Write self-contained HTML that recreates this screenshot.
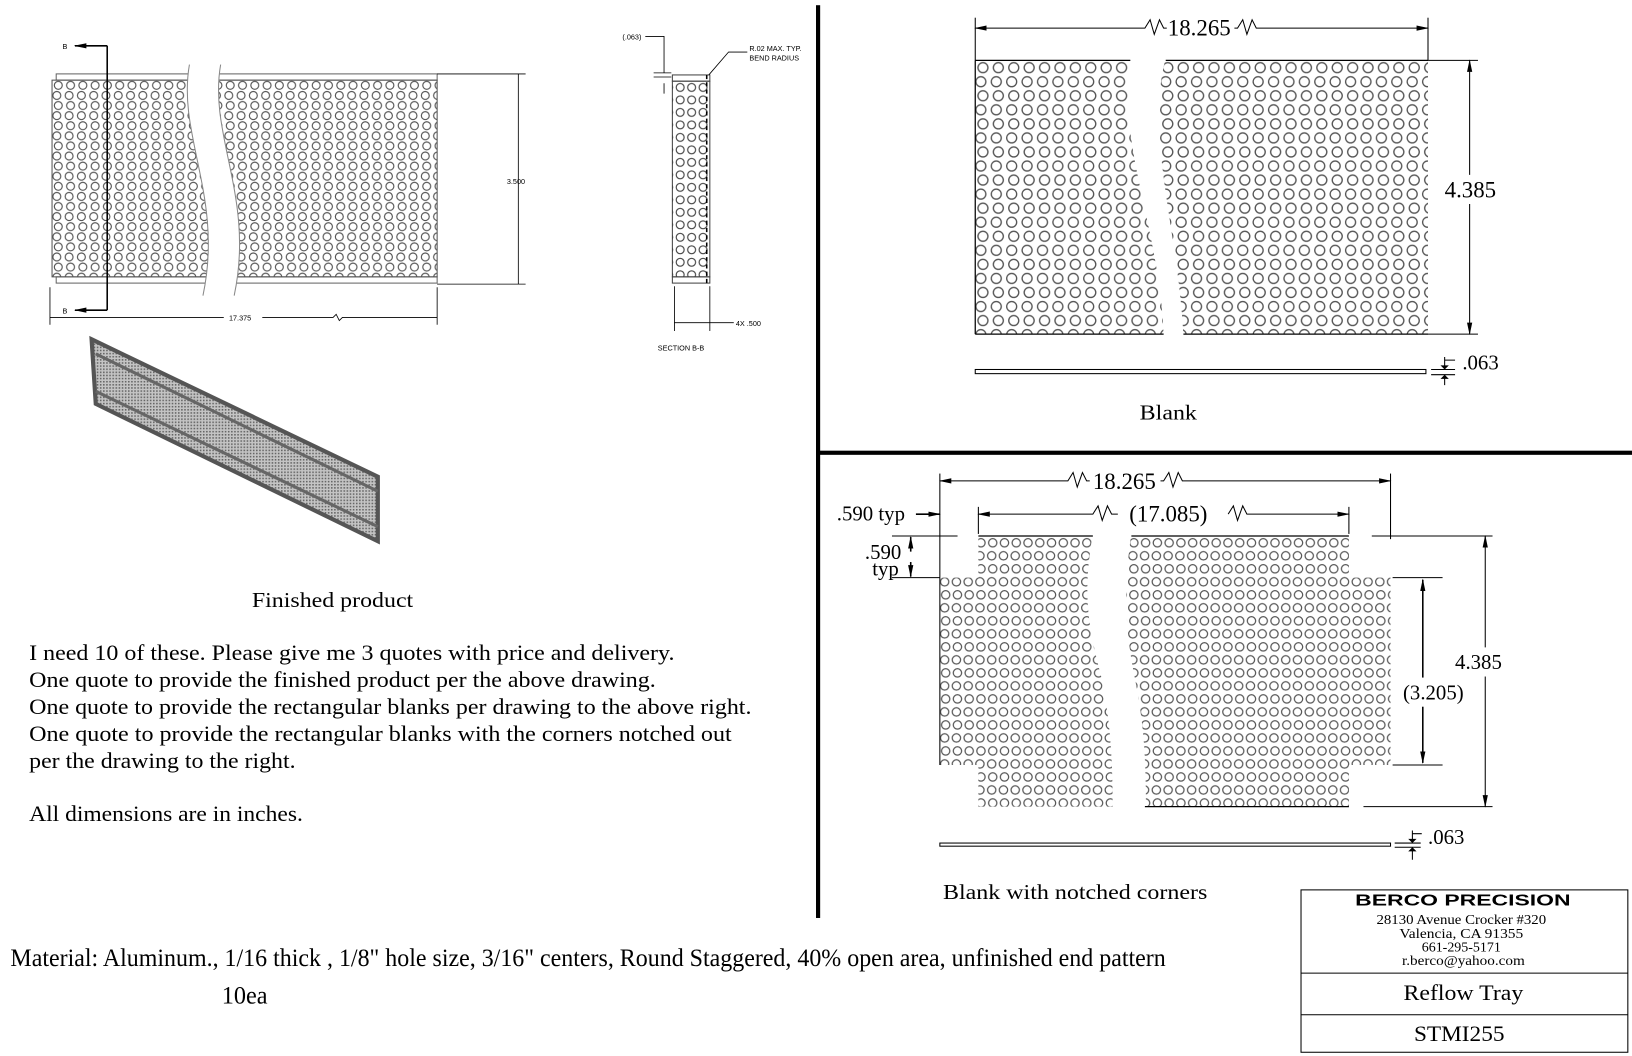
<!DOCTYPE html>
<html><head><meta charset="utf-8"><style>
html,body{margin:0;padding:0;background:#fff}
svg{display:block}
text{font-family:"Liberation Serif",serif;fill:#000}
.s{font-family:"Liberation Sans",sans-serif}
</style></head><body>
<svg width="1632" height="1056" viewBox="0 0 1568 1014.6" preserveAspectRatio="none" xmlns="http://www.w3.org/2000/svg">
<defs>
<pattern id="pA" width="14.8" height="27" patternUnits="userSpaceOnUse" x="937" y="58">
<circle cx="7.4" cy="7" r="4.8" fill="none" stroke="#555" stroke-width="1.3"/>
<circle cx="5.4" cy="20.5" r="4.8" fill="none" stroke="#555" stroke-width="1.3"/>
</pattern>
<pattern id="pB" width="11.3" height="25" patternUnits="userSpaceOnUse" x="903" y="515">
<circle cx="5.6" cy="6.5" r="4" fill="none" stroke="#555" stroke-width="1.2"/>
<circle cx="4.6" cy="19" r="4" fill="none" stroke="#555" stroke-width="1.2"/>
</pattern>
<pattern id="pC" width="11.8" height="19.4" patternUnits="userSpaceOnUse" x="50" y="77">
<circle cx="6" cy="5" r="3.8" fill="none" stroke="#555" stroke-width="1.1"/>
<circle cx="4.6" cy="14.7" r="3.8" fill="none" stroke="#555" stroke-width="1.1"/>
</pattern>
<pattern id="pD" width="11" height="12" patternUnits="userSpaceOnUse" x="648" y="78">
<circle cx="5.5" cy="6" r="3.8" fill="none" stroke="#444" stroke-width="1.1"/>
</pattern>
<pattern id="pE" width="3" height="3" patternUnits="userSpaceOnUse">
<rect width="3" height="3" fill="#c4c4c4"/><rect width="1.5" height="1.5" fill="#666"/>
</pattern>
<marker id="ar" markerWidth="12" markerHeight="8" refX="11" refY="4" orient="auto" markerUnits="userSpaceOnUse"><path d="M0,1.5 L12,4 L0,6.5z" fill="#000"/></marker>
<marker id="al" markerWidth="12" markerHeight="8" refX="1" refY="4" orient="auto" markerUnits="userSpaceOnUse"><path d="M12,1.5 L0,4 L12,6.5z" fill="#000"/></marker>
</defs>

<rect x="784" y="5" width="4" height="877" fill="#000"/>
<rect x="786" y="433" width="782" height="4" fill="#000"/>

<!-- Top-left finished drawing -->
<rect x="54" y="71" width="366" height="6" fill="#fff" stroke="#666" stroke-width="1"/>
<rect x="54" y="266" width="366" height="6" fill="#fff" stroke="#666" stroke-width="1"/>
<rect x="50" y="77" width="370" height="189" fill="url(#pC)" stroke="#555" stroke-width="1"/>
<path d="M182,62 C170,130 215,190 195,284 L225,284 C245,190 200,130 212,62 Z" fill="#fff"/>
<path d="M182,62 C170,130 215,190 195,284 M212,62 C200,130 245,190 225,284" fill="none" stroke="#888" stroke-width="1"/>
<line x1="103" y1="44" x2="103" y2="298" stroke="#000" stroke-width="1.5"/>
<line x1="103" y1="44" x2="72" y2="44" stroke="#000" stroke-width="1.5" marker-end="url(#ar)"/>
<line x1="103" y1="298" x2="72" y2="298" stroke="#000" stroke-width="1.5" marker-end="url(#ar)"/>
<text x="60" y="47" font-size="7" class="s">B</text>
<text x="60" y="301" font-size="7" class="s">B</text>
<line x1="420" y1="71" x2="505" y2="71" stroke="#000" stroke-width="0.8"/>
<line x1="420" y1="273" x2="505" y2="273" stroke="#000" stroke-width="0.8"/>
<line x1="498" y1="71" x2="498" y2="273" stroke="#000" stroke-width="0.8"/>
<text x="487" y="177" font-size="7" class="s">3.500</text>
<line x1="48" y1="276" x2="48" y2="312" stroke="#000" stroke-width="0.8"/>
<line x1="420" y1="276" x2="420" y2="312" stroke="#000" stroke-width="0.8"/>
<path d="M48,305 H215 M252,305 H320 l3,-3 l3,6 l3,-3 H420" fill="none" stroke="#000" stroke-width="0.8"/>
<text x="220" y="308" font-size="7" class="s">17.375</text>

<!-- isometric -->
<polygon points="88,326 363,458 363,520 92,388" fill="url(#pE)" stroke="#555" stroke-width="4"/>
<path d="M92,340 L363,472 M92,376 L363,506" stroke="#666" stroke-width="3" fill="none"/>

<!-- section B-B -->
<rect x="646" y="72" width="36" height="6" fill="#fff" stroke="#444" stroke-width="1"/>
<rect x="646" y="266" width="36" height="6" fill="#fff" stroke="#444" stroke-width="1"/>
<rect x="646" y="78" width="36" height="188" fill="url(#pD)" stroke="#444" stroke-width="1"/>
<line x1="679" y1="72" x2="679" y2="272" stroke="#000" stroke-width="1.5" stroke-dasharray="4,3"/>
<text x="598" y="38" font-size="7" class="s">(.063)</text>
<path d="M620,35 H638 V70 M638,80 V90 M628,70 H645 M628,74 H645" fill="none" stroke="#000" stroke-width="0.8"/>
<path d="M718,50 H700 L681,72" fill="none" stroke="#000" stroke-width="0.8"/>
<text x="720" y="49" font-size="7" class="s">R.02 MAX. TYP.</text>
<text x="720" y="58" font-size="7" class="s">BEND RADIUS</text>
<line x1="648" y1="275" x2="648" y2="318" stroke="#000" stroke-width="0.8"/>
<line x1="682" y1="275" x2="682" y2="318" stroke="#000" stroke-width="0.8"/>
<line x1="648" y1="310" x2="705" y2="310" stroke="#000" stroke-width="0.8"/>
<text x="707" y="313" font-size="7" class="s">4X .500</text>
<text x="632" y="337" font-size="7" class="s">SECTION B-B</text>

<!-- left texts -->
<text x="242" y="583" font-size="20" textLength="155" lengthAdjust="spacingAndGlyphs">Finished product</text>
<g font-size="21">
<text x="28" y="634" textLength="620" lengthAdjust="spacingAndGlyphs">I need 10 of these. Please give me 3 quotes with price and delivery.</text>
<text x="28" y="660" textLength="602" lengthAdjust="spacingAndGlyphs">One quote to provide the finished product per the above drawing.</text>
<text x="28" y="686" textLength="694" lengthAdjust="spacingAndGlyphs">One quote to provide the rectangular blanks per drawing to the above right.</text>
<text x="28" y="712" textLength="675" lengthAdjust="spacingAndGlyphs">One quote to provide the rectangular blanks with the corners notched out</text>
<text x="28" y="738" textLength="256" lengthAdjust="spacingAndGlyphs">per the drawing to the right.</text>
<text x="28" y="789" textLength="263" lengthAdjust="spacingAndGlyphs">All dimensions are in inches.</text>
</g>
<text x="10" y="928" font-size="24" textLength="1110" lengthAdjust="spacingAndGlyphs">Material:  Aluminum., 1/16 thick , 1/8" hole size, 3/16" centers, Round Staggered, 40% open area, unfinished end pattern</text>
<text x="213" y="964" font-size="24" textLength="44" lengthAdjust="spacingAndGlyphs">10ea</text>

<!-- Top-right blank -->
<rect x="937" y="58" width="435" height="263" fill="url(#pA)"/>
<line x1="937" y1="58" x2="937" y2="321" stroke="#000" stroke-width="1.2"/>
<path d="M1088,56 C1070,130 1115,220 1118,323 L1137,323 C1132,220 1100,130 1120,56 Z" fill="#fff"/>
<line x1="937" y1="58" x2="1086" y2="58" stroke="#000" stroke-width="1.2"/>
<line x1="1120" y1="58" x2="1372" y2="58" stroke="#000" stroke-width="1.2"/>
<line x1="937" y1="321" x2="1118" y2="321" stroke="#000" stroke-width="1.2"/>
<line x1="1137" y1="321" x2="1372" y2="321" stroke="#000" stroke-width="1.2"/>
<line x1="937" y1="17" x2="937" y2="58" stroke="#000" stroke-width="1"/>
<line x1="1372" y1="17" x2="1372" y2="58" stroke="#000" stroke-width="1"/>
<path d="M937,27 H1100 l5,-8 l4,14 l5,-14 l4,8 h3" fill="none" stroke="#000" stroke-width="1" marker-start="url(#al)"/>
<path d="M1186,27 h3 l5,-8 l4,14 l5,-14 l4,8 H1372" fill="none" stroke="#000" stroke-width="1" marker-end="url(#ar)"/>
<text x="1122" y="34" font-size="22">18.265</text>
<line x1="1372" y1="58" x2="1420" y2="58" stroke="#000" stroke-width="1"/>
<line x1="1372" y1="321" x2="1420" y2="321" stroke="#000" stroke-width="1"/>
<line x1="1412" y1="58" x2="1412" y2="321" stroke="#000" stroke-width="1" marker-start="url(#al)" marker-end="url(#ar)"/>
<rect x="1384" y="168" width="56" height="28" fill="#fff"/>
<text x="1388" y="190" font-size="22">4.385</text>
<rect x="937" y="355" width="433" height="4" fill="#fff" stroke="#000" stroke-width="1"/>
<path d="M1375,355 H1398 M1375,360 H1398 M1388,343 V355 M1388,360 V370 M1388,346 H1398" fill="none" stroke="#000" stroke-width="1"/>
<path d="M1384,351 L1388,355 L1392,351z M1384,364 L1388,360 L1392,364z" fill="#000"/>
<text x="1405" y="355" font-size="20">.063</text>
<text x="1095" y="403" font-size="20" textLength="55" lengthAdjust="spacingAndGlyphs">Blank</text>

<!-- Bottom-right notched -->
<polygon points="940,515 1296,515 1296,555 1336,555 1336,735 1296,735 1296,775 940,775 940,735 903,735 903,555 940,555" fill="url(#pB)"/>
<path d="M1050,513 C1040,570 1045,600 1058,650 C1066,690 1069,720 1069,778 L1101,778 C1101,720 1098,690 1090,650 C1080,600 1080,560 1087,513 Z" fill="#fff"/>
<line x1="940" y1="515" x2="1050" y2="515" stroke="#000" stroke-width="1.2"/>
<line x1="1087" y1="515" x2="1296" y2="515" stroke="#000" stroke-width="1.2"/>
<line x1="1100" y1="775" x2="1296" y2="775" stroke="#000" stroke-width="1.2"/>
<line x1="903" y1="555" x2="903" y2="735" stroke="#000" stroke-width="1"/>
<line x1="903" y1="455" x2="903" y2="555" stroke="#000" stroke-width="1"/>
<line x1="1336" y1="455" x2="1336" y2="518" stroke="#000" stroke-width="1"/>
<path d="M903,462 H1026 l5,-8 l4,14 l5,-14 l4,8 h3" fill="none" stroke="#000" stroke-width="1" marker-start="url(#al)"/>
<path d="M1115,462 h3 l5,-8 l4,14 l5,-14 l4,8 H1336" fill="none" stroke="#000" stroke-width="1" marker-end="url(#ar)"/>
<text x="1050" y="470" font-size="22">18.265</text>
<line x1="940" y1="487" x2="940" y2="513" stroke="#000" stroke-width="1"/>
<line x1="1296" y1="487" x2="1296" y2="513" stroke="#000" stroke-width="1"/>
<path d="M940,494 H1050 l5,-8 l4,14 l5,-14 l4,8 h6" fill="none" stroke="#000" stroke-width="1" marker-start="url(#al)"/>
<path d="M1180,494 l5,-8 l4,14 l5,-14 l4,8 H1296" fill="none" stroke="#000" stroke-width="1" marker-end="url(#ar)"/>
<text x="1085" y="501" font-size="22">(17.085)</text>
<text x="804" y="500" font-size="20">.590 typ</text>
<line x1="880" y1="494" x2="903" y2="494" stroke="#000" stroke-width="1.5" marker-end="url(#ar)"/>
<line x1="857" y1="515" x2="920" y2="515" stroke="#000" stroke-width="1"/>
<line x1="857" y1="555" x2="903" y2="555" stroke="#000" stroke-width="1"/>
<line x1="875" y1="530" x2="875" y2="516" stroke="#000" stroke-width="1.5" marker-end="url(#ar)"/>
<line x1="875" y1="540" x2="875" y2="554" stroke="#000" stroke-width="1.5" marker-end="url(#ar)"/>
<text x="831" y="537" font-size="20">.590</text>
<text x="838" y="553" font-size="20">typ</text>
<line x1="1318" y1="515" x2="1434" y2="515" stroke="#000" stroke-width="1"/>
<line x1="1310" y1="775" x2="1434" y2="775" stroke="#000" stroke-width="1"/>
<line x1="1427" y1="515" x2="1427" y2="775" stroke="#000" stroke-width="1" marker-start="url(#al)" marker-end="url(#ar)"/>
<rect x="1396" y="622" width="56" height="28" fill="#fff"/>
<text x="1398" y="643" font-size="20">4.385</text>
<line x1="1338" y1="555" x2="1386" y2="555" stroke="#000" stroke-width="1"/>
<line x1="1338" y1="735" x2="1386" y2="735" stroke="#000" stroke-width="1"/>
<line x1="1367" y1="557" x2="1367" y2="733" stroke="#000" stroke-width="1.5" marker-start="url(#al)" marker-end="url(#ar)"/>
<rect x="1346" y="651" width="70" height="28" fill="#fff"/>
<text x="1348" y="672" font-size="20">(3.205)</text>
<rect x="903" y="810" width="433" height="3" fill="#fff" stroke="#000" stroke-width="1"/>
<path d="M1340,810 H1365 M1340,814 H1365 M1357,798 V810 M1357,814 V826 M1357,801 H1366" fill="none" stroke="#000" stroke-width="1"/>
<path d="M1353,806 L1357,810 L1361,806z M1353,818 L1357,814 L1361,818z" fill="#000"/>
<text x="1372" y="811" font-size="20">.063</text>
<text x="906" y="864" font-size="20" textLength="254" lengthAdjust="spacingAndGlyphs">Blank with notched corners</text>

<!-- title block -->
<rect x="1250" y="855" width="314" height="156" fill="#fff" stroke="#000" stroke-width="1"/>
<line x1="1250" y1="935" x2="1564" y2="935" stroke="#000" stroke-width="1"/>
<line x1="1250" y1="975" x2="1564" y2="975" stroke="#000" stroke-width="1"/>
<text x="1302" y="870" font-size="15" font-weight="bold" class="s" textLength="207" lengthAdjust="spacingAndGlyphs">BERCO PRECISION</text>
<g font-size="13" text-anchor="middle">
<text x="1404" y="888" textLength="163" lengthAdjust="spacingAndGlyphs">28130 Avenue Crocker #320</text>
<text x="1404" y="901" textLength="119" lengthAdjust="spacingAndGlyphs">Valencia, CA 91355</text>
<text x="1404" y="914" textLength="76" lengthAdjust="spacingAndGlyphs">661-295-5171</text>
<text x="1406" y="927" textLength="118" lengthAdjust="spacingAndGlyphs">r.berco@yahoo.com</text>
</g>
<text x="1406" y="961" font-size="21" text-anchor="middle" textLength="115" lengthAdjust="spacingAndGlyphs">Reflow Tray</text>
<text x="1402" y="1000" font-size="21" text-anchor="middle" textLength="87" lengthAdjust="spacingAndGlyphs">STMI255</text>
</svg>
</body></html>
